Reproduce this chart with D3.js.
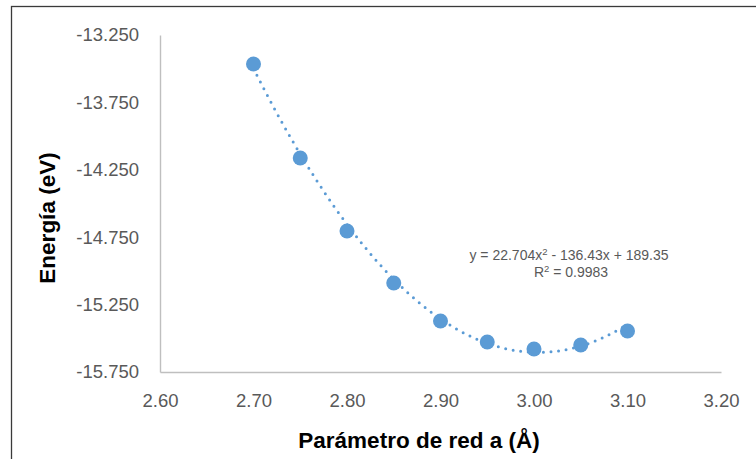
<!DOCTYPE html>
<html>
<head>
<meta charset="utf-8">
<script src="https://cdn.jsdelivr.net/npm/d3@7"></script>
<style>
  html, body { margin: 0; padding: 0; background: #fff; }
  svg { display: block; }
</style>
</head>
<body>
<svg id="chart" width="756" height="459"></svg>
<script>
// ---- Data ----
const xValues = [2.70, 2.75, 2.80, 2.85, 2.90, 2.95, 3.00, 3.05, 3.10];
const yValues = [-13.465, -14.162, -14.704, -15.090, -15.372, -15.527, -15.579, -15.550, -15.446];
const xTicks = [2.60, 2.70, 2.80, 2.90, 3.00, 3.10, 3.20];
const xTickLabels = ["2.60", "2.70", "2.80", "2.90", "3.00", "3.10", "3.20"];
const yTicks = [-13.25, -13.75, -14.25, -14.75, -15.25, -15.75];
const yTickLabels = ["-13.250", "-13.750", "-14.250", "-14.750", "-15.250", "-15.750"];
const trendCoefs = [22.704, -136.43, 189.35]; // y = a x^2 + b x + c (as shown on chart)
const trendLabel = ["y = 22.704x", "2", " - 136.43x + 189.35"];
const r2Label = ["R", "2", " = 0.9983"];
const xTitle = "Parámetro de red a (Å)";
const yTitle = "Energía (eV)";

// ---- Layout ----
const svg = d3.select("#chart");
const plot = { left: 160, right: 721, top: 35, bottom: 372 };
const blue = "#5b9bd5";
const axisColor = "#bfbfbf";
const textColor = "#595959";
const font = "'Liberation Sans', Arial, sans-serif";

// chart border
svg.append("rect")
  .attr("x", 11.5).attr("y", 6.5)
  .attr("width", 900).attr("height", 600)
  .attr("fill", "none")
  .attr("stroke", "#3a3a3a")
  .attr("stroke-width", 1.3);

const x = d3.scaleLinear().domain([2.60, 3.20]).range([plot.left, plot.right]);
const y = d3.scaleLinear().domain([-15.75, -13.25]).range([plot.bottom, plot.top]);

// axes
const yAxis = d3.axisLeft(y).tickValues(yTicks).tickSize(0).tickPadding(21)
  .tickFormat((d, i) => yTickLabels[i]);
const xAxis = d3.axisBottom(x).tickValues(xTicks).tickSize(0).tickPadding(22)
  .tickFormat((d, i) => xTickLabels[i]);

const gy = svg.append("g").attr("transform", `translate(${plot.left},0)`).call(yAxis);
const gx = svg.append("g").attr("transform", `translate(0,${plot.bottom})`).call(xAxis);

[gx, gy].forEach(g => {
  g.select(".domain").attr("stroke", axisColor).attr("stroke-width", 1.4);
  g.selectAll("text")
    .attr("fill", textColor)
    .style("font-family", font)
    .style("font-size", "18.5px");
});

// trendline (dotted)
const xs = d3.range(0, 201).map(i => xValues[0] + (xValues[xValues.length - 1] - xValues[0]) * i / 200);
const line = d3.line()
  .x(d => x(d))
  .y(d => y(trendCoefs[0] * d * d + trendCoefs[1] * d + trendCoefs[2]))
  .curve(d3.curveLinear);
svg.append("path")
  .datum(xs)
  .attr("d", line)
  .attr("fill", "none")
  .attr("stroke", blue)
  .attr("stroke-width", 3)
  .attr("stroke-linecap", "round")
  .attr("stroke-dasharray", "0 7.6");

// points
svg.append("g").selectAll("circle")
  .data(xValues.map((v, i) => [v, yValues[i]]))
  .join("circle")
  .attr("cx", d => x(d[0]))
  .attr("cy", d => y(d[1]))
  .attr("r", 7.5)
  .attr("fill", blue);

// trendline label
function supText(parts, cx, cy) {
  const t = svg.append("text")
    .attr("x", cx).attr("y", cy)
    .attr("text-anchor", "middle")
    .attr("fill", textColor)
    .style("font-family", font)
    .style("font-size", "14px");
  t.append("tspan").text(parts[0]);
  t.append("tspan").attr("dy", -5).style("font-size", "9.5px").text(parts[1]);
  t.append("tspan").attr("dy", 5).text(parts[2]);
}
supText(trendLabel, 569, 260);
supText(r2Label, 571, 277);

// axis titles
svg.append("text")
  .attr("x", 419).attr("y", 448)
  .attr("text-anchor", "middle")
  .attr("fill", "#000")
  .style("font-family", font)
  .style("font-weight", "bold")
  .style("font-size", "22.5px")
  .text(xTitle);

svg.append("text")
  .attr("transform", "translate(55,218) rotate(-90)")
  .attr("text-anchor", "middle")
  .attr("fill", "#000")
  .style("font-family", font)
  .style("font-weight", "bold")
  .style("font-size", "22.5px")
  .text(yTitle);
</script>
</body>
</html>
